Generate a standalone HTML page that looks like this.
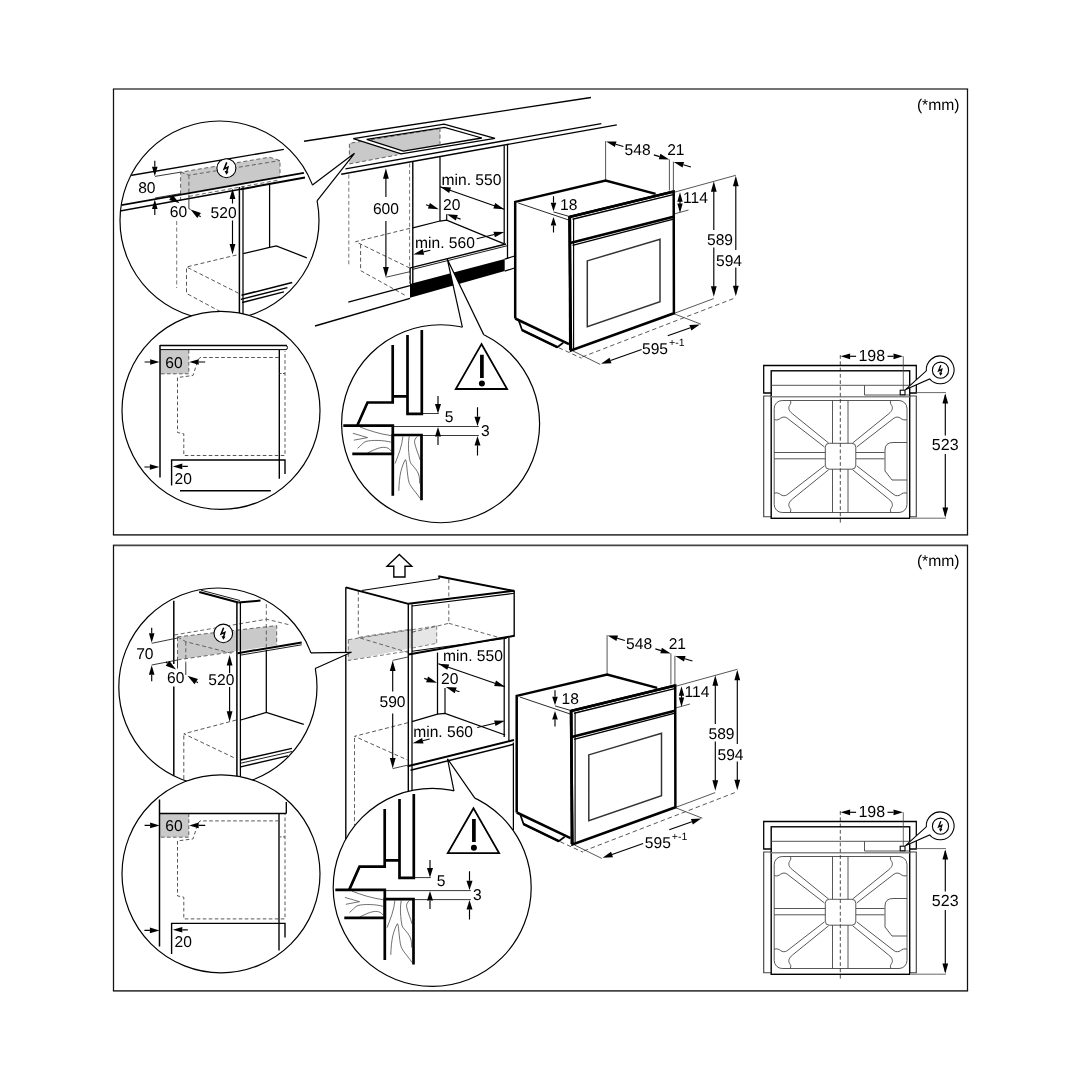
<!DOCTYPE html>
<html><head><meta charset="utf-8"><title>Installation dimensions</title>
<style>
html,body{margin:0;padding:0;background:#fff;}
body{width:1080px;height:1080px;overflow:hidden;}
svg{display:block;}
svg text{font-family:"Liberation Sans",Arial,Helvetica,sans-serif;fill:#000;text-rendering:geometricPrecision;}
svg{will-change:transform;}
</style></head><body>
<svg width="1080" height="1080" viewBox="0 0 1080 1080">
<line x1="112.90" y1="89.00" x2="968.10" y2="89.00" stroke="#444" stroke-width="1.7" stroke-linecap="butt"/>
<line x1="112.90" y1="534.90" x2="968.10" y2="534.90" stroke="#444" stroke-width="1.7" stroke-linecap="butt"/>
<line x1="113.50" y1="89.00" x2="113.50" y2="534.90" stroke="#111" stroke-width="1.26" stroke-linecap="butt"/>
<line x1="967.50" y1="89.00" x2="967.50" y2="534.90" stroke="#111" stroke-width="1.26" stroke-linecap="butt"/>
<text x="959.60" y="110.10" font-size="15.7" text-anchor="end" >(*mm)</text>
<line x1="112.90" y1="545.30" x2="968.10" y2="545.30" stroke="#444" stroke-width="1.7" stroke-linecap="butt"/>
<line x1="112.90" y1="990.90" x2="968.10" y2="990.90" stroke="#444" stroke-width="1.7" stroke-linecap="butt"/>
<line x1="113.50" y1="545.30" x2="113.50" y2="990.90" stroke="#111" stroke-width="1.26" stroke-linecap="butt"/>
<line x1="967.50" y1="545.30" x2="967.50" y2="990.90" stroke="#111" stroke-width="1.26" stroke-linecap="butt"/>
<text x="959.60" y="566.40" font-size="15.7" text-anchor="end" >(*mm)</text>
<g transform="translate(0,0)">
<polyline points="771.20,393.00 763.70,393.00 763.70,365.50 916.30,365.50 916.30,393.00 909.70,393.00" fill="none" stroke="#000" stroke-width="1.26" stroke-linejoin="miter"/>
<polyline points="771.20,396.00 763.70,396.00 763.70,516.70 771.20,516.70" fill="none" stroke="#444" stroke-width="1.15" stroke-linejoin="miter"/>
<polyline points="909.70,396.00 916.30,396.00 916.30,516.70 909.70,516.70" fill="none" stroke="#444" stroke-width="1.15" stroke-linejoin="miter"/>
<rect x="771.2" y="370.8" width="138.5" height="147.5" fill="none" stroke="#000" stroke-width="1.4"/>
<line x1="771.20" y1="385.30" x2="909.70" y2="385.30" stroke="#444" stroke-width="0.9" stroke-linecap="butt"/>
<line x1="771.20" y1="396.80" x2="909.70" y2="396.80" stroke="#888" stroke-width="1.38" stroke-linecap="butt"/>
<polyline points="864.50,385.30 864.50,395.00 909.70,395.00" fill="none" stroke="#444" stroke-width="0.9" stroke-linejoin="miter"/>
<rect x="900.2" y="390.2" width="4.8" height="4.6" fill="#fff" stroke="#000" stroke-width="1.1"/>
<rect x="774.2" y="400.5" width="132.8" height="112" rx="8" ry="8" fill="none" stroke="#444" stroke-width="0.9"/>
<line x1="832.50" y1="400.50" x2="832.50" y2="443.30" stroke="#444" stroke-width="0.9" stroke-linecap="butt"/>
<line x1="832.50" y1="469.20" x2="832.50" y2="512.50" stroke="#444" stroke-width="0.9" stroke-linecap="butt"/>
<line x1="848.00" y1="400.50" x2="848.00" y2="443.30" stroke="#444" stroke-width="0.9" stroke-linecap="butt"/>
<line x1="848.00" y1="469.20" x2="848.00" y2="512.50" stroke="#444" stroke-width="0.9" stroke-linecap="butt"/>
<rect x="825.3" y="443.3" width="30.5" height="25.9" rx="4" ry="4" fill="none" stroke="#444" stroke-width="0.9"/>
<line x1="774.20" y1="452.50" x2="825.30" y2="452.50" stroke="#444" stroke-width="0.9" stroke-linecap="butt"/>
<line x1="855.80" y1="452.50" x2="884.50" y2="452.50" stroke="#444" stroke-width="0.9" stroke-linecap="butt"/>
<line x1="774.20" y1="458.80" x2="825.30" y2="458.80" stroke="#444" stroke-width="0.9" stroke-linecap="butt"/>
<line x1="855.80" y1="458.80" x2="884.50" y2="458.80" stroke="#444" stroke-width="0.9" stroke-linecap="butt"/>
<path d="M907,442.5 H893 Q885,442.5 885,450 V471 L892,480 H907" fill="none" stroke="#444" stroke-width="0.9" />
<path d="M790.20,400.40 C791.50,402.50 790.50,404.00 789.50,405.50 C788.00,408.00 789.00,411.00 792.40,413.70 L828.70,443.10" fill="none" stroke="#444" stroke-width="0.9" />
<path d="M774.30,419.60 C777.00,420.50 779.00,419.50 780.50,418.30 C782.50,416.80 785.00,416.60 787.20,418.10 L824.50,447.00" fill="none" stroke="#444" stroke-width="0.9" />
<path d="M891.00,400.40 C889.70,402.50 890.70,404.00 891.70,405.50 C893.20,408.00 892.20,411.00 888.80,413.70 L852.50,443.10" fill="none" stroke="#444" stroke-width="0.9" />
<path d="M906.90,419.60 C904.20,420.50 902.20,419.50 900.70,418.30 C898.70,416.80 896.20,416.60 894.00,418.10 L856.70,447.00" fill="none" stroke="#444" stroke-width="0.9" />
<path d="M790.20,512.40 C791.50,510.30 790.50,508.80 789.50,507.30 C788.00,504.80 789.00,501.80 792.40,499.10 L828.70,469.70" fill="none" stroke="#444" stroke-width="0.9" />
<path d="M774.30,493.20 C777.00,492.30 779.00,493.30 780.50,494.50 C782.50,496.00 785.00,496.20 787.20,494.70 L824.50,465.80" fill="none" stroke="#444" stroke-width="0.9" />
<path d="M891.00,512.40 C889.70,510.30 890.70,508.80 891.70,507.30 C893.20,504.80 892.20,501.80 888.80,499.10 L852.50,469.70" fill="none" stroke="#444" stroke-width="0.9" />
<path d="M906.90,493.20 C904.20,492.30 902.20,493.30 900.70,494.50 C898.70,496.00 896.20,496.20 894.00,494.70 L856.70,465.80" fill="none" stroke="#444" stroke-width="0.9" />
<line x1="840.30" y1="355.00" x2="840.30" y2="524.00" stroke="#222" stroke-width="0.8" stroke-dasharray="3.8 2.5" stroke-linecap="butt"/>
<line x1="903.30" y1="356.30" x2="903.30" y2="390.00" stroke="#444" stroke-width="0.8" stroke-linecap="butt"/>
<polygon points="840.60,356.30 850.10,353.40 850.10,359.20" fill="#000" stroke="none"/>
<line x1="850.10" y1="356.30" x2="856.10" y2="356.30" stroke="#000" stroke-width="1.15" stroke-linecap="butt"/>
<polygon points="903.00,356.30 893.50,359.20 893.50,353.40" fill="#000" stroke="none"/>
<line x1="893.50" y1="356.30" x2="887.50" y2="356.30" stroke="#000" stroke-width="1.15" stroke-linecap="butt"/>
<text x="871.80" y="360.80" font-size="16" text-anchor="middle" >198</text>
<line x1="916.00" y1="392.60" x2="946.00" y2="392.60" stroke="#444" stroke-width="0.8" stroke-linecap="butt"/>
<line x1="911.00" y1="518.20" x2="946.00" y2="518.20" stroke="#444" stroke-width="0.8" stroke-linecap="butt"/>
<line x1="945.30" y1="395.00" x2="945.30" y2="435.60" stroke="#000" stroke-width="1.15" stroke-linecap="butt"/>
<line x1="945.30" y1="454.00" x2="945.30" y2="516.00" stroke="#000" stroke-width="1.15" stroke-linecap="butt"/>
<polygon points="945.30,393.60 948.20,403.60 942.40,403.60" fill="#000" stroke="none"/>
<polygon points="945.30,517.60 942.40,507.60 948.20,507.60" fill="#000" stroke="none"/>
<text x="945.20" y="450.20" font-size="16" text-anchor="middle" >523</text>
<path d="M905.2,389.8 L926.3,370.8 A13.9,13.9 0 1 1 929.6,378.9 Z" fill="#fff" stroke="#000" stroke-width="1.1" />
<circle cx="940.5" cy="370.2" r="8.1" fill="#fff" stroke="#000" stroke-width="1.1"/>
<polyline points="940.80,365.20 938.60,370.80 941.80,369.30 940.70,373.40" fill="none" stroke="#000" stroke-width="1.35" stroke-linejoin="miter"/>
<polygon points="940.50,375.70 938.90,372.40 942.40,373.20" fill="#000"/>
</g>
<g transform="translate(0,456)">
<polyline points="771.20,393.00 763.70,393.00 763.70,365.50 916.30,365.50 916.30,393.00 909.70,393.00" fill="none" stroke="#000" stroke-width="1.26" stroke-linejoin="miter"/>
<polyline points="771.20,396.00 763.70,396.00 763.70,516.70 771.20,516.70" fill="none" stroke="#444" stroke-width="1.15" stroke-linejoin="miter"/>
<polyline points="909.70,396.00 916.30,396.00 916.30,516.70 909.70,516.70" fill="none" stroke="#444" stroke-width="1.15" stroke-linejoin="miter"/>
<rect x="771.2" y="370.8" width="138.5" height="147.5" fill="none" stroke="#000" stroke-width="1.4"/>
<line x1="771.20" y1="385.30" x2="909.70" y2="385.30" stroke="#444" stroke-width="0.9" stroke-linecap="butt"/>
<line x1="771.20" y1="396.80" x2="909.70" y2="396.80" stroke="#888" stroke-width="1.38" stroke-linecap="butt"/>
<polyline points="864.50,385.30 864.50,395.00 909.70,395.00" fill="none" stroke="#444" stroke-width="0.9" stroke-linejoin="miter"/>
<rect x="900.2" y="390.2" width="4.8" height="4.6" fill="#fff" stroke="#000" stroke-width="1.1"/>
<rect x="774.2" y="400.5" width="132.8" height="112" rx="8" ry="8" fill="none" stroke="#444" stroke-width="0.9"/>
<line x1="832.50" y1="400.50" x2="832.50" y2="443.30" stroke="#444" stroke-width="0.9" stroke-linecap="butt"/>
<line x1="832.50" y1="469.20" x2="832.50" y2="512.50" stroke="#444" stroke-width="0.9" stroke-linecap="butt"/>
<line x1="848.00" y1="400.50" x2="848.00" y2="443.30" stroke="#444" stroke-width="0.9" stroke-linecap="butt"/>
<line x1="848.00" y1="469.20" x2="848.00" y2="512.50" stroke="#444" stroke-width="0.9" stroke-linecap="butt"/>
<rect x="825.3" y="443.3" width="30.5" height="25.9" rx="4" ry="4" fill="none" stroke="#444" stroke-width="0.9"/>
<line x1="774.20" y1="452.50" x2="825.30" y2="452.50" stroke="#444" stroke-width="0.9" stroke-linecap="butt"/>
<line x1="855.80" y1="452.50" x2="884.50" y2="452.50" stroke="#444" stroke-width="0.9" stroke-linecap="butt"/>
<line x1="774.20" y1="458.80" x2="825.30" y2="458.80" stroke="#444" stroke-width="0.9" stroke-linecap="butt"/>
<line x1="855.80" y1="458.80" x2="884.50" y2="458.80" stroke="#444" stroke-width="0.9" stroke-linecap="butt"/>
<path d="M907,442.5 H893 Q885,442.5 885,450 V471 L892,480 H907" fill="none" stroke="#444" stroke-width="0.9" />
<path d="M790.20,400.40 C791.50,402.50 790.50,404.00 789.50,405.50 C788.00,408.00 789.00,411.00 792.40,413.70 L828.70,443.10" fill="none" stroke="#444" stroke-width="0.9" />
<path d="M774.30,419.60 C777.00,420.50 779.00,419.50 780.50,418.30 C782.50,416.80 785.00,416.60 787.20,418.10 L824.50,447.00" fill="none" stroke="#444" stroke-width="0.9" />
<path d="M891.00,400.40 C889.70,402.50 890.70,404.00 891.70,405.50 C893.20,408.00 892.20,411.00 888.80,413.70 L852.50,443.10" fill="none" stroke="#444" stroke-width="0.9" />
<path d="M906.90,419.60 C904.20,420.50 902.20,419.50 900.70,418.30 C898.70,416.80 896.20,416.60 894.00,418.10 L856.70,447.00" fill="none" stroke="#444" stroke-width="0.9" />
<path d="M790.20,512.40 C791.50,510.30 790.50,508.80 789.50,507.30 C788.00,504.80 789.00,501.80 792.40,499.10 L828.70,469.70" fill="none" stroke="#444" stroke-width="0.9" />
<path d="M774.30,493.20 C777.00,492.30 779.00,493.30 780.50,494.50 C782.50,496.00 785.00,496.20 787.20,494.70 L824.50,465.80" fill="none" stroke="#444" stroke-width="0.9" />
<path d="M891.00,512.40 C889.70,510.30 890.70,508.80 891.70,507.30 C893.20,504.80 892.20,501.80 888.80,499.10 L852.50,469.70" fill="none" stroke="#444" stroke-width="0.9" />
<path d="M906.90,493.20 C904.20,492.30 902.20,493.30 900.70,494.50 C898.70,496.00 896.20,496.20 894.00,494.70 L856.70,465.80" fill="none" stroke="#444" stroke-width="0.9" />
<line x1="840.30" y1="355.00" x2="840.30" y2="524.00" stroke="#222" stroke-width="0.8" stroke-dasharray="3.8 2.5" stroke-linecap="butt"/>
<line x1="903.30" y1="356.30" x2="903.30" y2="390.00" stroke="#444" stroke-width="0.8" stroke-linecap="butt"/>
<polygon points="840.60,356.30 850.10,353.40 850.10,359.20" fill="#000" stroke="none"/>
<line x1="850.10" y1="356.30" x2="856.10" y2="356.30" stroke="#000" stroke-width="1.15" stroke-linecap="butt"/>
<polygon points="903.00,356.30 893.50,359.20 893.50,353.40" fill="#000" stroke="none"/>
<line x1="893.50" y1="356.30" x2="887.50" y2="356.30" stroke="#000" stroke-width="1.15" stroke-linecap="butt"/>
<text x="871.80" y="360.80" font-size="16" text-anchor="middle" >198</text>
<line x1="916.00" y1="392.60" x2="946.00" y2="392.60" stroke="#444" stroke-width="0.8" stroke-linecap="butt"/>
<line x1="911.00" y1="518.20" x2="946.00" y2="518.20" stroke="#444" stroke-width="0.8" stroke-linecap="butt"/>
<line x1="945.30" y1="395.00" x2="945.30" y2="435.60" stroke="#000" stroke-width="1.15" stroke-linecap="butt"/>
<line x1="945.30" y1="454.00" x2="945.30" y2="516.00" stroke="#000" stroke-width="1.15" stroke-linecap="butt"/>
<polygon points="945.30,393.60 948.20,403.60 942.40,403.60" fill="#000" stroke="none"/>
<polygon points="945.30,517.60 942.40,507.60 948.20,507.60" fill="#000" stroke="none"/>
<text x="945.20" y="450.20" font-size="16" text-anchor="middle" >523</text>
<path d="M905.2,389.8 L926.3,370.8 A13.9,13.9 0 1 1 929.6,378.9 Z" fill="#fff" stroke="#000" stroke-width="1.1" />
<circle cx="940.5" cy="370.2" r="8.1" fill="#fff" stroke="#000" stroke-width="1.1"/>
<polyline points="940.80,365.20 938.60,370.80 941.80,369.30 940.70,373.40" fill="none" stroke="#000" stroke-width="1.35" stroke-linejoin="miter"/>
<polygon points="940.50,375.70 938.90,372.40 942.40,373.20" fill="#000"/>
</g>
<g transform="translate(0,0)">
<line x1="605.60" y1="141.10" x2="605.60" y2="180.00" stroke="#444" stroke-width="0.9" stroke-linecap="butt"/>
<line x1="669.40" y1="159.40" x2="669.40" y2="190.50" stroke="#444" stroke-width="0.9" stroke-linecap="butt"/>
<line x1="673.40" y1="161.70" x2="673.40" y2="191.50" stroke="#444" stroke-width="0.9" stroke-linecap="butt"/>
<line x1="674.40" y1="192.20" x2="735.80" y2="175.30" stroke="#444" stroke-width="0.9" stroke-linecap="butt"/>
<line x1="674.40" y1="213.90" x2="688.50" y2="210.00" stroke="#444" stroke-width="0.9" stroke-linecap="butt"/>
<line x1="673.90" y1="313.50" x2="713.70" y2="298.60" stroke="#444" stroke-width="0.9" stroke-linecap="butt"/>
<line x1="582.20" y1="357.00" x2="736.00" y2="297.60" stroke="#444" stroke-width="0.9" stroke-dasharray="4.5 3" stroke-linecap="butt"/>
<line x1="558.70" y1="347.70" x2="581.50" y2="358.20" stroke="#444" stroke-width="0.9" stroke-dasharray="4.5 3" stroke-linecap="butt"/>
<line x1="573.00" y1="351.00" x2="600.20" y2="364.40" stroke="#444" stroke-width="0.9" stroke-linecap="butt"/>
<line x1="673.90" y1="313.70" x2="700.90" y2="324.20" stroke="#444" stroke-width="0.9" stroke-linecap="butt"/>
<polyline points="515.20,318.50 515.20,201.90 605.60,180.50 655.60,193.90" fill="none" stroke="#000" stroke-width="2.5" stroke-linejoin="miter"/>
<line x1="515.20" y1="318.50" x2="569.00" y2="344.20" stroke="#000" stroke-width="2.5" stroke-linecap="butt"/>
<line x1="518.30" y1="203.00" x2="568.70" y2="220.00" stroke="#111" stroke-width="0.9" stroke-linecap="butt"/>
<line x1="553.50" y1="211.90" x2="568.70" y2="216.30" stroke="#111" stroke-width="0.9" stroke-linecap="butt"/>
<polyline points="518.90,321.00 522.10,330.10 557.30,347.20 563.20,342.80" fill="none" stroke="#000" stroke-width="1.7" stroke-linejoin="miter"/>
<line x1="522.10" y1="330.10" x2="557.30" y2="347.20" stroke="#000" stroke-width="2.4" stroke-linecap="butt"/>
<polygon points="569.40,217.00 673.70,191.50 673.90,313.30 571.00,350.40" fill="#fff" stroke="#000" stroke-width="2.5" stroke-linejoin="miter"/>
<line x1="569.40" y1="217.00" x2="673.70" y2="191.50" stroke="#000" stroke-width="2.8" stroke-linecap="butt"/>
<line x1="569.80" y1="217.00" x2="570.40" y2="350.00" stroke="#000" stroke-width="2.8" stroke-linecap="butt"/>
<line x1="573.60" y1="219.00" x2="573.60" y2="349.20" stroke="#000" stroke-width="1.15" stroke-linecap="butt"/>
<line x1="572.50" y1="219.20" x2="673.20" y2="194.60" stroke="#000" stroke-width="1.49" stroke-linecap="butt"/>
<line x1="570.20" y1="243.00" x2="673.50" y2="216.70" stroke="#000" stroke-width="2.7" stroke-linecap="butt"/>
<line x1="572.50" y1="245.30" x2="673.50" y2="219.20" stroke="#000" stroke-width="1.38" stroke-linecap="butt"/>
<polygon points="587.30,260.90 660.00,239.20 660.00,301.70 587.30,326.70" fill="none" stroke="#333" stroke-width="1.49" stroke-linejoin="miter"/>
<polygon points="553.50,211.20 550.70,202.70 556.30,202.70" fill="#000" stroke="none"/>
<line x1="553.50" y1="202.70" x2="553.50" y2="196.20" stroke="#000" stroke-width="1.15" stroke-linecap="butt"/>
<polygon points="553.50,217.00 556.30,225.50 550.70,225.50" fill="#000" stroke="none"/>
<line x1="553.50" y1="225.50" x2="553.50" y2="232.50" stroke="#000" stroke-width="1.15" stroke-linecap="butt"/>
<text x="560.00" y="210.00" font-size="15.6" text-anchor="start" >18</text>
<polygon points="606.10,141.40 616.51,141.44 614.88,147.00" fill="#000" stroke="none"/>
<line x1="615.69" y1="144.22" x2="623.37" y2="146.47" stroke="#000" stroke-width="1.15" stroke-linecap="butt"/>
<polygon points="669.20,159.40 658.79,159.36 660.42,153.80" fill="#000" stroke="none"/>
<line x1="659.61" y1="156.58" x2="653.85" y2="154.89" stroke="#000" stroke-width="1.15" stroke-linecap="butt"/>
<polygon points="673.70,161.90 684.11,161.94 682.48,167.50" fill="#000" stroke="none"/>
<line x1="683.29" y1="164.72" x2="690.97" y2="166.97" stroke="#000" stroke-width="1.15" stroke-linecap="butt"/>
<text x="624.60" y="154.60" font-size="15.6" text-anchor="start" >548</text>
<text x="667.20" y="154.60" font-size="15.6" text-anchor="start" >21</text>
<polygon points="680.00,192.30 682.70,201.80 677.30,201.80" fill="#000" stroke="none"/>
<polygon points="680.00,212.90 677.30,203.40 682.70,203.40" fill="#000" stroke="none"/>
<line x1="680.00" y1="198.00" x2="680.00" y2="207.00" stroke="#000" stroke-width="1.15" stroke-linecap="butt"/>
<text x="683.00" y="202.60" font-size="15.6" text-anchor="start" >114</text>
<line x1="713.80" y1="185.00" x2="713.80" y2="230.00" stroke="#000" stroke-width="1.15" stroke-linecap="butt"/>
<line x1="713.80" y1="247.50" x2="713.80" y2="292.00" stroke="#000" stroke-width="1.15" stroke-linecap="butt"/>
<polygon points="713.80,181.20 716.70,191.70 710.90,191.70" fill="#000" stroke="none"/>
<polygon points="713.80,296.80 710.90,286.30 716.70,286.30" fill="#000" stroke="none"/>
<line x1="735.80" y1="180.00" x2="735.80" y2="250.00" stroke="#000" stroke-width="1.15" stroke-linecap="butt"/>
<line x1="735.80" y1="267.50" x2="735.80" y2="292.00" stroke="#000" stroke-width="1.15" stroke-linecap="butt"/>
<polygon points="735.80,175.70 738.70,186.20 732.90,186.20" fill="#000" stroke="none"/>
<polygon points="735.80,296.30 732.90,285.80 738.70,285.80" fill="#000" stroke="none"/>
<text x="707.00" y="245.40" font-size="15.6" text-anchor="start" >589</text>
<text x="716.00" y="265.90" font-size="15.6" text-anchor="start" >594</text>
<polygon points="601.10,363.80 609.56,357.74 611.49,363.20" fill="#000" stroke="none"/>
<line x1="610.53" y1="360.47" x2="641.65" y2="349.48" stroke="#000" stroke-width="1.15" stroke-linecap="butt"/>
<polygon points="699.80,324.40 691.34,330.46 689.41,325.00" fill="#000" stroke="none"/>
<line x1="690.37" y1="327.73" x2="667.74" y2="335.72" stroke="#000" stroke-width="1.15" stroke-linecap="butt"/>
<text x="642.00" y="354.20" font-size="15.6" text-anchor="start" >595</text>
<text x="669.00" y="346.30" font-size="10.5" text-anchor="start" >+-1</text>
</g>
<line x1="304.00" y1="141.30" x2="591.00" y2="97.50" stroke="#000" stroke-width="1.38" stroke-linecap="butt"/>
<line x1="345.50" y1="168.90" x2="601.30" y2="123.60" stroke="#000" stroke-width="1.38" stroke-linecap="butt"/>
<line x1="341.20" y1="174.30" x2="616.80" y2="124.90" stroke="#000" stroke-width="1.38" stroke-linecap="butt"/>
<polygon points="349.40,143.30 440.00,128.30 440.00,147.00 349.40,163.90" fill="#c9c9c9" stroke="none" stroke-width="0" stroke-linejoin="miter"/>
<polyline points="440.00,128.50 349.40,143.30 349.40,163.90 397.00,155.00" fill="none" stroke="#555" stroke-width="0.9" stroke-dasharray="4 2.6" stroke-linejoin="miter"/>
<path d="M353.30,138.70 L444.10,124.10 L495.00,138.30 L401.10,153.90 Z M366.70,139.40 L444.50,127.30 L481.80,138.00 L403.30,151.10 Z" fill="#fff" stroke="#000" stroke-width="1.3" fill-rule="evenodd"/>
<line x1="440.00" y1="128.00" x2="440.00" y2="146.50" stroke="#555" stroke-width="0.9" stroke-dasharray="4 2.6" stroke-linecap="butt"/>
<line x1="348.80" y1="174.50" x2="348.80" y2="264.50" stroke="#666" stroke-width="0.9" stroke-dasharray="4 2.6" stroke-linecap="butt"/>
<line x1="409.60" y1="163.50" x2="409.60" y2="283.00" stroke="#666" stroke-width="0.9" stroke-dasharray="4 2.6" stroke-linecap="butt"/>
<polyline points="410.00,228.30 355.60,241.70 409.40,267.80" fill="none" stroke="#444" stroke-width="0.9" stroke-dasharray="4 2.6" stroke-linejoin="miter"/>
<polyline points="360.60,244.40 360.60,270.60 405.60,295.60" fill="none" stroke="#444" stroke-width="0.9" stroke-dasharray="4 2.6" stroke-linejoin="miter"/>
<line x1="412.80" y1="161.50" x2="412.80" y2="284.00" stroke="#000" stroke-width="1.38" stroke-linecap="butt"/>
<line x1="410.20" y1="268.00" x2="410.20" y2="284.00" stroke="#000" stroke-width="1.15" stroke-linecap="butt"/>
<line x1="440.00" y1="156.70" x2="440.00" y2="221.00" stroke="#000" stroke-width="1.26" stroke-linecap="butt"/>
<line x1="504.20" y1="145.60" x2="504.20" y2="243.80" stroke="#000" stroke-width="1.26" stroke-linecap="butt"/>
<line x1="507.50" y1="144.80" x2="507.50" y2="258.00" stroke="#000" stroke-width="1.26" stroke-linecap="butt"/>
<polyline points="412.80,227.80 440.00,221.00 446.70,220.20 504.20,243.80" fill="none" stroke="#000" stroke-width="1.26" stroke-linejoin="miter"/>
<line x1="446.70" y1="214.20" x2="446.70" y2="220.20" stroke="#000" stroke-width="1.15" stroke-linecap="butt"/>
<line x1="409.40" y1="268.20" x2="506.00" y2="244.00" stroke="#000" stroke-width="1.38" stroke-linecap="butt"/>
<line x1="412.80" y1="269.30" x2="507.00" y2="245.80" stroke="#000" stroke-width="0.9" stroke-linecap="butt"/>
<polygon points="410.00,283.90 504.70,259.00 504.70,271.10 410.00,297.80" fill="#000" stroke="none" stroke-width="0" stroke-linejoin="miter"/>
<line x1="504.70" y1="259.20" x2="514.50" y2="256.00" stroke="#000" stroke-width="1.26" stroke-linecap="butt"/>
<line x1="504.70" y1="271.10" x2="514.50" y2="268.00" stroke="#000" stroke-width="1.26" stroke-linecap="butt"/>
<line x1="348.30" y1="302.20" x2="410.00" y2="285.60" stroke="#000" stroke-width="1.38" stroke-linecap="butt"/>
<line x1="315.00" y1="326.00" x2="410.00" y2="298.30" stroke="#000" stroke-width="1.38" stroke-linecap="butt"/>
<line x1="386.10" y1="277.20" x2="410.00" y2="271.70" stroke="#333" stroke-width="0.9" stroke-linecap="butt"/>
<line x1="385.90" y1="172.00" x2="385.90" y2="197.00" stroke="#000" stroke-width="1.15" stroke-linecap="butt"/>
<line x1="385.90" y1="221.00" x2="385.90" y2="273.00" stroke="#000" stroke-width="1.15" stroke-linecap="butt"/>
<polygon points="385.90,168.30 388.80,178.80 383.00,178.80" fill="#000" stroke="none"/>
<polygon points="385.90,277.40 383.00,266.90 388.80,266.90" fill="#000" stroke="none"/>
<text x="385.90" y="214.10" font-size="15.6" text-anchor="middle" >600</text>
<line x1="440.00" y1="186.70" x2="504.20" y2="209.20" stroke="#000" stroke-width="1.15" stroke-linecap="butt"/>
<polygon points="440.20,186.80 451.07,187.54 449.15,193.01" fill="#000" stroke="none"/>
<polygon points="504.20,209.20 493.33,208.46 495.25,202.99" fill="#000" stroke="none"/>
<text x="441.50" y="184.60" font-size="15.6" text-anchor="start" >min. 550</text>
<polygon points="438.80,209.20 427.90,208.56 429.88,202.89" fill="#000" stroke="none"/>
<line x1="428.89" y1="205.73" x2="426.06" y2="204.73" stroke="#000" stroke-width="1.15" stroke-linecap="butt"/>
<polygon points="446.90,214.30 457.80,214.94 455.82,220.61" fill="#000" stroke="none"/>
<line x1="456.81" y1="217.77" x2="460.58" y2="219.10" stroke="#000" stroke-width="1.15" stroke-linecap="butt"/>
<text x="443.00" y="209.60" font-size="15.6" text-anchor="start" >20</text>
<polygon points="413.30,254.40 422.81,249.09 424.19,254.73" fill="#000" stroke="none"/>
<line x1="423.50" y1="251.91" x2="430.30" y2="250.25" stroke="#000" stroke-width="1.15" stroke-linecap="butt"/>
<polygon points="504.40,232.00 494.89,237.31 493.51,231.67" fill="#000" stroke="none"/>
<line x1="494.20" y1="234.49" x2="476.71" y2="238.75" stroke="#000" stroke-width="1.15" stroke-linecap="butt"/>
<text x="415.00" y="248.20" font-size="15.6" text-anchor="start" >min. 560</text>
<circle cx="440.6" cy="423.75" r="99" fill="#fff" stroke="#000" stroke-width="1.2"/>
<polygon points="460.72,329.88 462.79,327.27 447.30,259.20 483.30,334.43 483.28,337.76" fill="#fff" stroke="none"/>
<polygon points="460.72,329.88 462.79,327.27 473.64,329.15 483.30,334.43 483.28,337.76" fill="#fff" stroke="none"/>
<polyline points="462.36,327.17 447.30,259.20 483.69,334.62" fill="none" stroke="#000" stroke-width="1.2" stroke-linejoin="miter"/>
<clipPath id="c3a"><circle cx="440.6" cy="423.75" r="99"/></clipPath>
<g clip-path="url(#c3a)">
<g transform="translate(0,0)">
<line x1="392.50" y1="426.50" x2="478.80" y2="426.50" stroke="#222" stroke-width="0.9" stroke-linecap="butt"/>
<line x1="422.00" y1="435.50" x2="478.80" y2="435.50" stroke="#222" stroke-width="0.9" stroke-linecap="butt"/>
<line x1="422.00" y1="413.50" x2="438.80" y2="413.50" stroke="#222" stroke-width="0.9" stroke-linecap="butt"/>
<path d="M360,427 C370,431 380,434 391,435.6" fill="none" stroke="#333" stroke-width="0.7" />
<path d="M352.9,433.3 L367.5,437.6 L353.8,440.2" fill="none" stroke="#333" stroke-width="0.7" stroke-linejoin="round"/>
<path d="M357.5,448.3 C361,446 362.5,442.5 366,441.4 C372,439.8 384,440.2 391,442.2" fill="none" stroke="#333" stroke-width="0.7" />
<path d="M367.5,452.9 C372,451 377,448 382,447.4 C387,447 389.5,448.5 391,451" fill="none" stroke="#333" stroke-width="0.7" />
<path d="M402.9,436.3 C402,446 398.5,455 395,463.5" fill="none" stroke="#333" stroke-width="0.7" />
<path d="M409.2,436.3 C408.3,442 408.2,448 408.8,452.5 C409.2,457 409.6,461.5 411,463.5 C414,467 417.5,471 418.5,474 C419.5,477 419.8,480 419.6,483.5" fill="none" stroke="#333" stroke-width="0.7" />
<path d="M417.5,436.3 C415.5,438 414.2,440 414.6,442.5 C415.5,448 418.5,454 420.2,460" fill="none" stroke="#333" stroke-width="0.7" />
<path d="M398.8,490.8 C399,484 399.6,477 400.8,471.7 C402,467 403.6,462.5 405.4,459.6 C406.6,461 406.4,464 406.8,466.8 C407.4,472 407.8,479 409.4,483.5 C411.5,488 417,493.5 420,498.3" fill="none" stroke="#333" stroke-width="0.7" />
<polyline points="392.70,345.00 392.70,402.50 367.50,402.50 357.30,425.50" fill="none" stroke="#000" stroke-width="2.7" stroke-linejoin="miter"/>
<line x1="392.70" y1="396.30" x2="407.50" y2="396.30" stroke="#000" stroke-width="2.7" stroke-linecap="butt"/>
<polyline points="407.50,335.00 407.50,413.80 421.80,413.80 421.80,330.00" fill="none" stroke="#000" stroke-width="2.7" stroke-linejoin="miter"/>
<polyline points="343.30,425.70 392.80,425.70 392.80,453.80 352.30,453.80" fill="none" stroke="#000" stroke-width="2.7" stroke-linejoin="miter"/>
<polyline points="392.80,495.80 392.80,435.00 421.50,435.00 421.50,500.30" fill="none" stroke="#000" stroke-width="2.7" stroke-linejoin="miter"/>
<polygon points="438.00,413.40 435.00,403.90 441.00,403.90" fill="#000" stroke="none"/>
<line x1="438.00" y1="403.90" x2="438.00" y2="395.90" stroke="#000" stroke-width="1.15" stroke-linecap="butt"/>
<polygon points="438.00,427.00 441.00,436.50 435.00,436.50" fill="#000" stroke="none"/>
<line x1="438.00" y1="436.50" x2="438.00" y2="445.00" stroke="#000" stroke-width="1.15" stroke-linecap="butt"/>
<polygon points="477.50,426.20 474.50,416.70 480.50,416.70" fill="#000" stroke="none"/>
<line x1="477.50" y1="416.70" x2="477.50" y2="407.20" stroke="#000" stroke-width="1.15" stroke-linecap="butt"/>
<polygon points="477.50,436.00 480.50,445.50 474.50,445.50" fill="#000" stroke="none"/>
<line x1="477.50" y1="445.50" x2="477.50" y2="455.50" stroke="#000" stroke-width="1.15" stroke-linecap="butt"/>
<text x="444.80" y="421.70" font-size="15.6" text-anchor="start" >5</text>
<text x="481.00" y="435.60" font-size="15.6" text-anchor="start" >3</text>
<polygon points="481.50,344.10 455.80,389.00 507.10,389.00" fill="#fff" stroke="#000" stroke-width="1.8" stroke-linejoin="miter"/>
<line x1="481.90" y1="354.80" x2="481.90" y2="378.00" stroke="#000" stroke-width="3.7" stroke-linecap="butt"/>
<circle cx="481.9" cy="383.6" r="3.0" fill="#000"/>
</g>
</g>
<circle cx="219.5" cy="220.5" r="99.5" fill="#fff" stroke="#000" stroke-width="1.2"/>
<polygon points="309.29,185.13 312.61,185.41 354.50,153.30 316.95,200.41 314.29,202.42" fill="#fff" stroke="none"/>
<polygon points="309.29,185.13 312.61,185.41 316.23,192.49 316.95,200.41 314.29,202.42" fill="#fff" stroke="none"/>
<polyline points="312.45,185.00 354.50,153.30 317.04,200.83" fill="none" stroke="#000" stroke-width="1.2" stroke-linejoin="miter"/>
<clipPath id="c1a"><circle cx="219.5" cy="220.5" r="99.2"/></clipPath>
<g clip-path="url(#c1a)">
<polygon points="180.60,172.20 269.40,157.20 280.00,160.60 280.00,177.04 180.60,194.65" fill="#c9c9c9" stroke="none" stroke-width="0" stroke-linejoin="miter"/>
<line x1="120.00" y1="177.30" x2="283.90" y2="149.40" stroke="#000" stroke-width="1.38" stroke-linecap="butt"/>
<polyline points="180.60,201.00 180.60,172.20 269.40,157.20 280.00,160.60 280.00,178.30" fill="none" stroke="#555" stroke-width="0.9" stroke-dasharray="4 2.6" stroke-linejoin="miter"/>
<polyline points="180.60,172.20 188.90,175.20 280.00,160.60" fill="none" stroke="#555" stroke-width="0.9" stroke-dasharray="4 2.6" stroke-linejoin="miter"/>
<line x1="188.90" y1="175.20" x2="188.90" y2="194.40" stroke="#555" stroke-width="0.9" stroke-dasharray="4 2.6" stroke-linecap="butt"/>
<line x1="188.90" y1="196.40" x2="279.00" y2="180.00" stroke="#555" stroke-width="0.9" stroke-dasharray="4 2.6" stroke-linecap="butt"/>
<line x1="155.00" y1="176.40" x2="180.60" y2="172.20" stroke="#222" stroke-width="0.9" stroke-linecap="butt"/>
<line x1="155.00" y1="198.00" x2="180.60" y2="193.60" stroke="#222" stroke-width="0.9" stroke-linecap="butt"/>
<line x1="110.00" y1="207.16" x2="303.90" y2="172.80" stroke="#000" stroke-width="1.7" stroke-linecap="butt"/>
<line x1="110.00" y1="212.80" x2="242.00" y2="188.98" stroke="#000" stroke-width="1.38" stroke-linecap="butt"/>
<line x1="241.00" y1="189.16" x2="305.00" y2="177.60" stroke="#000" stroke-width="2.0" stroke-linecap="butt"/>
<polygon points="154.80,176.20 152.00,166.70 157.60,166.70" fill="#000" stroke="none"/>
<line x1="154.80" y1="166.70" x2="154.80" y2="160.70" stroke="#000" stroke-width="1.15" stroke-linecap="butt"/>
<polygon points="154.80,199.60 157.60,209.10 152.00,209.10" fill="#000" stroke="none"/>
<line x1="154.80" y1="209.10" x2="154.80" y2="215.10" stroke="#000" stroke-width="1.15" stroke-linecap="butt"/>
<text x="138.20" y="192.70" font-size="15.6" text-anchor="start" >80</text>
<polygon points="179.60,203.30 169.13,200.10 172.54,194.93" fill="#000" stroke="none"/>
<line x1="170.84" y1="197.52" x2="169.17" y2="196.41" stroke="#000" stroke-width="1.15" stroke-linecap="butt"/>
<polygon points="190.60,209.40 200.91,213.09 197.25,218.09" fill="#000" stroke="none"/>
<line x1="199.08" y1="215.59" x2="200.70" y2="216.77" stroke="#000" stroke-width="1.15" stroke-linecap="butt"/>
<polyline points="188.90,194.60 188.90,208.60 190.60,209.40" fill="none" stroke="#222" stroke-width="0.9" stroke-linejoin="miter"/>
<text x="169.80" y="217.20" font-size="15.6" text-anchor="start" >60</text>
<line x1="232.50" y1="192.00" x2="232.50" y2="203.50" stroke="#000" stroke-width="1.15" stroke-linecap="butt"/>
<line x1="232.50" y1="220.50" x2="232.50" y2="250.00" stroke="#000" stroke-width="1.15" stroke-linecap="butt"/>
<polygon points="232.50,188.60 235.40,199.10 229.60,199.10" fill="#000" stroke="none"/>
<polygon points="232.50,254.60 229.60,244.10 235.40,244.10" fill="#000" stroke="none"/>
<text x="210.60" y="217.80" font-size="15.6" text-anchor="start" >520</text>
<line x1="176.70" y1="221.00" x2="176.70" y2="288.00" stroke="#666" stroke-width="0.9" stroke-dasharray="4 2.6" stroke-linecap="butt"/>
<polyline points="236.50,255.00 186.50,267.00 238.50,293.20" fill="none" stroke="#444" stroke-width="0.9" stroke-dasharray="4 2.6" stroke-linejoin="miter"/>
<polyline points="186.50,268.50 186.50,293.40 222.00,312.50" fill="none" stroke="#444" stroke-width="0.9" stroke-dasharray="4 2.6" stroke-linejoin="miter"/>
<line x1="239.40" y1="187.00" x2="239.40" y2="330.00" stroke="#000" stroke-width="1.49" stroke-linecap="butt"/>
<line x1="243.00" y1="186.50" x2="243.00" y2="330.00" stroke="#000" stroke-width="1.26" stroke-linecap="butt"/>
<line x1="269.60" y1="184.40" x2="269.60" y2="247.40" stroke="#000" stroke-width="1.26" stroke-linecap="butt"/>
<polyline points="243.20,253.60 269.60,247.40 276.30,246.00 306.80,257.80" fill="none" stroke="#000" stroke-width="1.26" stroke-linejoin="miter"/>
<line x1="241.50" y1="295.30" x2="292.20" y2="282.50" stroke="#000" stroke-width="1.49" stroke-linecap="butt"/>
<line x1="240.80" y1="299.40" x2="287.40" y2="287.60" stroke="#000" stroke-width="1.38" stroke-linecap="butt"/>
<line x1="242.20" y1="302.50" x2="283.90" y2="291.80" stroke="#000" stroke-width="1.38" stroke-linecap="butt"/>
</g>
<circle cx="226.4" cy="168.2" r="9.5" fill="#fff" stroke="#000" stroke-width="1.1"/>
<polyline points="226.75,162.34 224.17,168.90 227.92,167.14 226.63,171.95" fill="none" stroke="#000" stroke-width="1.58" stroke-linejoin="miter"/>
<polygon points="226.40,174.65 224.52,170.78 228.63,171.72" fill="#000"/>
<circle cx="221" cy="410.4" r="99" fill="#fff" stroke="#000" stroke-width="1.2"/>
<clipPath id="c21"><circle cx="221" cy="410.4" r="98.7"/></clipPath>
<g clip-path="url(#c21)">
<g transform="translate(0,0)">
<rect x="160" y="350" width="28.8" height="23.8" fill="#c9c9c9"/>
<polyline points="188.80,350.00 188.80,373.80 160.00,373.80" fill="none" stroke="#555" stroke-width="0.9" stroke-dasharray="3.6 2.4" stroke-linejoin="miter"/>
<path d="M160,345.5 H286 Q287.4,345.5 287.4,347.6 Q287.4,349.6 286,349.6 H160" fill="none" stroke="#000" stroke-width="1.0" />
<line x1="160.00" y1="345.60" x2="287.00" y2="345.60" stroke="#000" stroke-width="1.5" stroke-linecap="butt"/>
<line x1="160.00" y1="345.00" x2="160.00" y2="477.50" stroke="#000" stroke-width="1.49" stroke-linecap="butt"/>
<line x1="279.30" y1="350.00" x2="279.30" y2="478.80" stroke="#000" stroke-width="1.38" stroke-linecap="butt"/>
<line x1="180.00" y1="490.80" x2="270.80" y2="490.80" stroke="#000" stroke-width="1.38" stroke-linecap="butt"/>
<polyline points="278.80,357.50 200.00,357.50 198.00,360.00 193.00,375.50 177.50,377.50 177.50,432.50 183.80,433.80 183.80,455.50 285.00,455.50 285.00,351.00" fill="none" stroke="#444" stroke-width="0.9" stroke-dasharray="3.6 2.4" stroke-linejoin="miter"/>
<line x1="279.50" y1="373.50" x2="285.00" y2="373.50" stroke="#444" stroke-width="0.9" stroke-dasharray="2 1.5" stroke-linecap="butt"/>
<polyline points="171.60,485.50 171.60,460.00 285.00,460.00 285.00,474.00" fill="none" stroke="#000" stroke-width="1.38" stroke-linejoin="miter"/>
<polygon points="159.60,362.00 150.10,364.80 150.10,359.20" fill="#000" stroke="none"/>
<line x1="150.10" y1="362.00" x2="144.60" y2="362.00" stroke="#000" stroke-width="1.15" stroke-linecap="butt"/>
<polygon points="189.20,362.00 198.70,359.20 198.70,364.80" fill="#000" stroke="none"/>
<line x1="198.70" y1="362.00" x2="205.20" y2="362.00" stroke="#000" stroke-width="1.15" stroke-linecap="butt"/>
<text x="165.30" y="367.50" font-size="15.6" text-anchor="start" >60</text>
<polygon points="159.40,467.00 149.90,469.80 149.90,464.20" fill="#000" stroke="none"/>
<line x1="149.90" y1="467.00" x2="144.40" y2="467.00" stroke="#000" stroke-width="1.15" stroke-linecap="butt"/>
<polygon points="172.80,466.40 182.30,463.60 182.30,469.20" fill="#000" stroke="none"/>
<line x1="182.30" y1="466.40" x2="187.80" y2="466.40" stroke="#000" stroke-width="1.15" stroke-linecap="butt"/>
<text x="174.60" y="483.70" font-size="15.6" text-anchor="start" >20</text>
</g>
</g>
<polygon points="348.30,639.70 436.70,625.80 436.70,643.30 348.30,660.50" fill="#d8d8d8" stroke="none" stroke-width="0" stroke-linejoin="miter"/>
<line x1="358.30" y1="590.80" x2="358.30" y2="637.50" stroke="#555" stroke-width="0.9" stroke-dasharray="4 2.6" stroke-linecap="butt"/>
<line x1="448.80" y1="579.20" x2="448.80" y2="623.30" stroke="#555" stroke-width="0.9" stroke-dasharray="4 2.6" stroke-linecap="butt"/>
<polyline points="408.30,652.50 358.30,637.50 448.80,623.30 501.70,638.30" fill="none" stroke="#555" stroke-width="0.9" stroke-dasharray="4 2.6" stroke-linejoin="miter"/>
<polyline points="348.30,639.70 436.70,625.80 436.70,643.30" fill="none" stroke="#666" stroke-width="0.9" stroke-dasharray="4 2.6" stroke-linejoin="miter"/>
<polyline points="348.30,639.70 348.30,660.50 408.30,651.00" fill="none" stroke="#666" stroke-width="0.9" stroke-dasharray="4 2.6" stroke-linejoin="miter"/>
<polygon points="412.00,603.90 514.20,591.20 514.20,636.20 412.00,653.30" fill="#fff" stroke="none" stroke-width="0" stroke-linejoin="miter"/>
<polygon points="412.00,629.70 436.70,625.80 436.70,643.30 412.00,648.10" fill="#e6e6e6" stroke="none" stroke-width="0" stroke-linejoin="miter"/>
<line x1="436.70" y1="625.80" x2="436.70" y2="643.30" stroke="#777" stroke-width="0.9" stroke-dasharray="4 2.6" stroke-linecap="butt"/>
<line x1="412.00" y1="629.70" x2="436.70" y2="625.80" stroke="#777" stroke-width="0.9" stroke-dasharray="4 2.6" stroke-linecap="butt"/>
<line x1="412.00" y1="648.10" x2="436.70" y2="643.30" stroke="#777" stroke-width="0.9" stroke-dasharray="4 2.6" stroke-linecap="butt"/>
<line x1="448.80" y1="604.00" x2="448.80" y2="623.30" stroke="#555" stroke-width="0.9" stroke-dasharray="4 2.6" stroke-linecap="butt"/>
<polyline points="448.80,623.30 501.70,638.30" fill="none" stroke="#555" stroke-width="0.9" stroke-dasharray="4 2.6" stroke-linejoin="miter"/>
<polyline points="412.00,632.20 448.80,623.30" fill="none" stroke="#555" stroke-width="0.9" stroke-dasharray="4 2.6" stroke-linejoin="miter"/>
<line x1="345.80" y1="587.20" x2="345.80" y2="840.00" stroke="#000" stroke-width="1.38" stroke-linecap="butt"/>
<line x1="345.80" y1="587.40" x2="408.50" y2="603.90" stroke="#000" stroke-width="2.0" stroke-linecap="butt"/>
<line x1="361.70" y1="590.50" x2="439.20" y2="578.80" stroke="#000" stroke-width="1.15" stroke-linecap="butt"/>
<line x1="439.20" y1="576.00" x2="439.20" y2="579.00" stroke="#000" stroke-width="1.15" stroke-linecap="butt"/>
<line x1="438.30" y1="576.20" x2="514.40" y2="591.00" stroke="#000" stroke-width="2.0" stroke-linecap="butt"/>
<line x1="408.30" y1="603.70" x2="514.20" y2="590.80" stroke="#000" stroke-width="2.0" stroke-linecap="butt"/>
<line x1="412.00" y1="606.00" x2="514.20" y2="593.30" stroke="#000" stroke-width="1.15" stroke-linecap="butt"/>
<line x1="408.30" y1="603.70" x2="408.30" y2="800.00" stroke="#000" stroke-width="1.38" stroke-linecap="butt"/>
<line x1="412.00" y1="604.50" x2="412.00" y2="800.00" stroke="#000" stroke-width="1.26" stroke-linecap="butt"/>
<line x1="514.20" y1="590.80" x2="514.20" y2="636.50" stroke="#000" stroke-width="1.38" stroke-linecap="butt"/>
<line x1="513.40" y1="742.50" x2="513.40" y2="830.00" stroke="#000" stroke-width="1.26" stroke-linecap="butt"/>
<line x1="408.30" y1="654.40" x2="514.40" y2="635.80" stroke="#000" stroke-width="2.0" stroke-linecap="butt"/>
<line x1="412.00" y1="651.30" x2="506.70" y2="638.30" stroke="#000" stroke-width="1.15" stroke-linecap="butt"/>
<line x1="504.20" y1="639.00" x2="504.20" y2="737.00" stroke="#000" stroke-width="1.26" stroke-linecap="butt"/>
<line x1="508.90" y1="637.50" x2="508.90" y2="741.00" stroke="#000" stroke-width="1.26" stroke-linecap="butt"/>
<line x1="437.50" y1="652.50" x2="437.50" y2="714.20" stroke="#000" stroke-width="1.26" stroke-linecap="butt"/>
<line x1="445.00" y1="688.00" x2="445.00" y2="713.30" stroke="#000" stroke-width="1.15" stroke-linecap="butt"/>
<polyline points="412.00,721.70 437.50,714.20 445.00,713.30 505.20,735.00" fill="none" stroke="#000" stroke-width="1.26" stroke-linejoin="miter"/>
<polyline points="408.00,722.70 354.50,736.30 407.50,760.00" fill="none" stroke="#444" stroke-width="0.9" stroke-dasharray="4 2.6" stroke-linejoin="miter"/>
<line x1="354.50" y1="738.00" x2="354.50" y2="825.00" stroke="#555" stroke-width="0.9" stroke-dasharray="4 2.6" stroke-linecap="butt"/>
<line x1="407.50" y1="766.30" x2="514.00" y2="740.00" stroke="#000" stroke-width="2.0" stroke-linecap="butt"/>
<line x1="410.50" y1="770.20" x2="513.50" y2="744.30" stroke="#000" stroke-width="1.5" stroke-linecap="butt"/>
<line x1="392.70" y1="664.50" x2="392.70" y2="691.50" stroke="#000" stroke-width="1.15" stroke-linecap="butt"/>
<line x1="392.70" y1="713.50" x2="392.70" y2="764.50" stroke="#000" stroke-width="1.15" stroke-linecap="butt"/>
<polygon points="392.70,660.60 395.60,671.10 389.80,671.10" fill="#000" stroke="none"/>
<polygon points="392.70,768.40 389.80,757.90 395.60,757.90" fill="#000" stroke="none"/>
<line x1="392.70" y1="660.40" x2="408.30" y2="656.90" stroke="#333" stroke-width="0.9" stroke-linecap="butt"/>
<line x1="392.70" y1="768.60" x2="407.50" y2="765.20" stroke="#333" stroke-width="0.9" stroke-linecap="butt"/>
<text x="392.50" y="707.10" font-size="15.6" text-anchor="middle" >590</text>
<line x1="438.30" y1="663.70" x2="505.00" y2="686.70" stroke="#000" stroke-width="1.15" stroke-linecap="butt"/>
<polygon points="438.30,663.70 449.17,664.38 447.28,669.87" fill="#000" stroke="none"/>
<polygon points="505.00,686.70 494.13,686.02 496.02,680.53" fill="#000" stroke="none"/>
<text x="443.00" y="661.20" font-size="15.6" text-anchor="start" >min. 550</text>
<polygon points="437.00,682.80 426.10,682.21 428.05,676.54" fill="#000" stroke="none"/>
<line x1="427.07" y1="679.38" x2="424.24" y2="678.40" stroke="#000" stroke-width="1.15" stroke-linecap="butt"/>
<polygon points="445.80,687.00 456.70,687.59 454.75,693.26" fill="#000" stroke="none"/>
<line x1="455.73" y1="690.42" x2="459.51" y2="691.73" stroke="#000" stroke-width="1.15" stroke-linecap="butt"/>
<text x="441.00" y="683.70" font-size="15.6" text-anchor="start" >20</text>
<polygon points="412.60,743.20 422.11,737.89 423.49,743.53" fill="#000" stroke="none"/>
<line x1="422.80" y1="740.71" x2="429.60" y2="739.05" stroke="#000" stroke-width="1.15" stroke-linecap="butt"/>
<polygon points="505.00,720.80 495.49,726.11 494.11,720.47" fill="#000" stroke="none"/>
<line x1="494.80" y1="723.29" x2="477.31" y2="727.55" stroke="#000" stroke-width="1.15" stroke-linecap="butt"/>
<text x="413.20" y="737.10" font-size="15.6" text-anchor="start" >min. 560</text>
<polygon points="399.30,554.50 387.00,566.30 393.80,566.30 393.80,577.00 405.00,577.00 405.00,566.30 411.80,566.30" fill="#fff" stroke="#000" stroke-width="1.38" stroke-linejoin="miter"/>
<g transform="translate(1.5,494)">
<line x1="605.60" y1="141.10" x2="605.60" y2="180.00" stroke="#444" stroke-width="0.9" stroke-linecap="butt"/>
<line x1="669.40" y1="159.40" x2="669.40" y2="190.50" stroke="#444" stroke-width="0.9" stroke-linecap="butt"/>
<line x1="673.40" y1="161.70" x2="673.40" y2="191.50" stroke="#444" stroke-width="0.9" stroke-linecap="butt"/>
<line x1="674.40" y1="192.20" x2="735.80" y2="175.30" stroke="#444" stroke-width="0.9" stroke-linecap="butt"/>
<line x1="674.40" y1="213.90" x2="688.50" y2="210.00" stroke="#444" stroke-width="0.9" stroke-linecap="butt"/>
<line x1="673.90" y1="313.50" x2="713.70" y2="298.60" stroke="#444" stroke-width="0.9" stroke-linecap="butt"/>
<line x1="582.20" y1="357.00" x2="736.00" y2="297.60" stroke="#444" stroke-width="0.9" stroke-dasharray="4.5 3" stroke-linecap="butt"/>
<line x1="558.70" y1="347.70" x2="581.50" y2="358.20" stroke="#444" stroke-width="0.9" stroke-dasharray="4.5 3" stroke-linecap="butt"/>
<line x1="573.00" y1="351.00" x2="600.20" y2="364.40" stroke="#444" stroke-width="0.9" stroke-linecap="butt"/>
<line x1="673.90" y1="313.70" x2="700.90" y2="324.20" stroke="#444" stroke-width="0.9" stroke-linecap="butt"/>
<polyline points="515.20,318.50 515.20,201.90 605.60,180.50 655.60,193.90" fill="none" stroke="#000" stroke-width="2.5" stroke-linejoin="miter"/>
<line x1="515.20" y1="318.50" x2="569.00" y2="344.20" stroke="#000" stroke-width="2.5" stroke-linecap="butt"/>
<line x1="518.30" y1="203.00" x2="568.70" y2="220.00" stroke="#111" stroke-width="0.9" stroke-linecap="butt"/>
<line x1="553.50" y1="211.90" x2="568.70" y2="216.30" stroke="#111" stroke-width="0.9" stroke-linecap="butt"/>
<polyline points="518.90,321.00 522.10,330.10 557.30,347.20 563.20,342.80" fill="none" stroke="#000" stroke-width="1.7" stroke-linejoin="miter"/>
<line x1="522.10" y1="330.10" x2="557.30" y2="347.20" stroke="#000" stroke-width="2.4" stroke-linecap="butt"/>
<polygon points="569.40,217.00 673.70,191.50 673.90,313.30 571.00,350.40" fill="#fff" stroke="#000" stroke-width="2.5" stroke-linejoin="miter"/>
<line x1="569.40" y1="217.00" x2="673.70" y2="191.50" stroke="#000" stroke-width="2.8" stroke-linecap="butt"/>
<line x1="569.80" y1="217.00" x2="570.40" y2="350.00" stroke="#000" stroke-width="2.8" stroke-linecap="butt"/>
<line x1="573.60" y1="219.00" x2="573.60" y2="349.20" stroke="#000" stroke-width="1.15" stroke-linecap="butt"/>
<line x1="572.50" y1="219.20" x2="673.20" y2="194.60" stroke="#000" stroke-width="1.49" stroke-linecap="butt"/>
<line x1="570.20" y1="243.00" x2="673.50" y2="216.70" stroke="#000" stroke-width="2.7" stroke-linecap="butt"/>
<line x1="572.50" y1="245.30" x2="673.50" y2="219.20" stroke="#000" stroke-width="1.38" stroke-linecap="butt"/>
<polygon points="587.30,260.90 660.00,239.20 660.00,301.70 587.30,326.70" fill="none" stroke="#333" stroke-width="1.49" stroke-linejoin="miter"/>
<polygon points="553.50,211.20 550.70,202.70 556.30,202.70" fill="#000" stroke="none"/>
<line x1="553.50" y1="202.70" x2="553.50" y2="196.20" stroke="#000" stroke-width="1.15" stroke-linecap="butt"/>
<polygon points="553.50,217.00 556.30,225.50 550.70,225.50" fill="#000" stroke="none"/>
<line x1="553.50" y1="225.50" x2="553.50" y2="232.50" stroke="#000" stroke-width="1.15" stroke-linecap="butt"/>
<text x="560.00" y="210.00" font-size="15.6" text-anchor="start" >18</text>
<polygon points="606.10,141.40 616.51,141.44 614.88,147.00" fill="#000" stroke="none"/>
<line x1="615.69" y1="144.22" x2="623.37" y2="146.47" stroke="#000" stroke-width="1.15" stroke-linecap="butt"/>
<polygon points="669.20,159.40 658.79,159.36 660.42,153.80" fill="#000" stroke="none"/>
<line x1="659.61" y1="156.58" x2="653.85" y2="154.89" stroke="#000" stroke-width="1.15" stroke-linecap="butt"/>
<polygon points="673.70,161.90 684.11,161.94 682.48,167.50" fill="#000" stroke="none"/>
<line x1="683.29" y1="164.72" x2="690.97" y2="166.97" stroke="#000" stroke-width="1.15" stroke-linecap="butt"/>
<text x="624.60" y="154.60" font-size="15.6" text-anchor="start" >548</text>
<text x="667.20" y="154.60" font-size="15.6" text-anchor="start" >21</text>
<polygon points="680.00,192.30 682.70,201.80 677.30,201.80" fill="#000" stroke="none"/>
<polygon points="680.00,212.90 677.30,203.40 682.70,203.40" fill="#000" stroke="none"/>
<line x1="680.00" y1="198.00" x2="680.00" y2="207.00" stroke="#000" stroke-width="1.15" stroke-linecap="butt"/>
<text x="683.00" y="202.60" font-size="15.6" text-anchor="start" >114</text>
<line x1="713.80" y1="185.00" x2="713.80" y2="230.00" stroke="#000" stroke-width="1.15" stroke-linecap="butt"/>
<line x1="713.80" y1="247.50" x2="713.80" y2="292.00" stroke="#000" stroke-width="1.15" stroke-linecap="butt"/>
<polygon points="713.80,181.20 716.70,191.70 710.90,191.70" fill="#000" stroke="none"/>
<polygon points="713.80,296.80 710.90,286.30 716.70,286.30" fill="#000" stroke="none"/>
<line x1="735.80" y1="180.00" x2="735.80" y2="250.00" stroke="#000" stroke-width="1.15" stroke-linecap="butt"/>
<line x1="735.80" y1="267.50" x2="735.80" y2="292.00" stroke="#000" stroke-width="1.15" stroke-linecap="butt"/>
<polygon points="735.80,175.70 738.70,186.20 732.90,186.20" fill="#000" stroke="none"/>
<polygon points="735.80,296.30 732.90,285.80 738.70,285.80" fill="#000" stroke="none"/>
<text x="707.00" y="245.40" font-size="15.6" text-anchor="start" >589</text>
<text x="716.00" y="265.90" font-size="15.6" text-anchor="start" >594</text>
<polygon points="601.10,363.80 609.56,357.74 611.49,363.20" fill="#000" stroke="none"/>
<line x1="610.53" y1="360.47" x2="641.65" y2="349.48" stroke="#000" stroke-width="1.15" stroke-linecap="butt"/>
<polygon points="699.80,324.40 691.34,330.46 689.41,325.00" fill="#000" stroke="none"/>
<line x1="690.37" y1="327.73" x2="667.74" y2="335.72" stroke="#000" stroke-width="1.15" stroke-linecap="butt"/>
<text x="643.30" y="354.20" font-size="15.6" text-anchor="start" >595</text>
<text x="670.30" y="346.30" font-size="10.5" text-anchor="start" >+-1</text>
</g>
<circle cx="217.9" cy="687.1" r="99.1" fill="#fff" stroke="#000" stroke-width="1.2"/>
<polygon points="307.74,652.97 311.05,653.29 351.50,652.30 315.16,668.11 312.48,670.08" fill="#fff" stroke="none"/>
<polygon points="307.74,652.97 311.05,653.29 314.55,660.30 315.16,668.11 312.48,670.08" fill="#fff" stroke="none"/>
<polyline points="310.90,652.88 351.50,652.30 315.24,668.53" fill="none" stroke="#000" stroke-width="1.2" stroke-linejoin="miter"/>
<clipPath id="c1b"><circle cx="217.9" cy="687.1" r="98.8"/></clipPath>
<g clip-path="url(#c1b)">
<polygon points="177.50,636.90 276.70,625.60 276.70,645.30 177.50,659.70" fill="#c9c9c9" stroke="none" stroke-width="0" stroke-linejoin="miter"/>
<polyline points="174.20,635.00 266.70,619.20 290.00,625.00" fill="none" stroke="#555" stroke-width="0.9" stroke-dasharray="4 2.6" stroke-linejoin="miter"/>
<polyline points="177.50,636.90 276.70,625.60 276.70,645.30" fill="none" stroke="#555" stroke-width="0.9" stroke-dasharray="4 2.6" stroke-linejoin="miter"/>
<polyline points="177.50,636.90 185.80,641.70 231.70,653.30" fill="none" stroke="#555" stroke-width="0.9" stroke-dasharray="4 2.6" stroke-linejoin="miter"/>
<line x1="185.80" y1="641.70" x2="185.80" y2="662.50" stroke="#555" stroke-width="0.9" stroke-dasharray="4 2.6" stroke-linecap="butt"/>
<line x1="177.50" y1="636.90" x2="177.50" y2="660.00" stroke="#555" stroke-width="0.9" stroke-dasharray="4 2.6" stroke-linecap="butt"/>
<line x1="177.50" y1="659.90" x2="236.70" y2="651.30" stroke="#555" stroke-width="0.9" stroke-dasharray="4 2.6" stroke-linecap="butt"/>
<line x1="266.30" y1="604.20" x2="266.30" y2="648.30" stroke="#555" stroke-width="0.9" stroke-dasharray="4 2.6" stroke-linecap="butt"/>
<line x1="173.80" y1="600.80" x2="173.80" y2="664.00" stroke="#000" stroke-width="1.49" stroke-linecap="butt"/>
<line x1="173.80" y1="686.50" x2="173.80" y2="790.00" stroke="#000" stroke-width="1.49" stroke-linecap="butt"/>
<line x1="199.20" y1="592.00" x2="238.30" y2="602.50" stroke="#000" stroke-width="2.0" stroke-linecap="butt"/>
<line x1="201.00" y1="590.20" x2="240.00" y2="600.50" stroke="#000" stroke-width="0.9" stroke-linecap="butt"/>
<line x1="238.30" y1="602.50" x2="260.50" y2="600.60" stroke="#000" stroke-width="2.0" stroke-linecap="butt"/>
<line x1="236.90" y1="603.00" x2="236.90" y2="790.00" stroke="#000" stroke-width="1.5" stroke-linecap="butt"/>
<line x1="240.40" y1="603.00" x2="240.40" y2="790.00" stroke="#000" stroke-width="1.26" stroke-linecap="butt"/>
<line x1="237.50" y1="653.20" x2="301.70" y2="642.40" stroke="#000" stroke-width="2.0" stroke-linecap="butt"/>
<line x1="240.20" y1="655.20" x2="301.70" y2="644.80" stroke="#000" stroke-width="0.9" stroke-linecap="butt"/>
<line x1="266.30" y1="650.00" x2="266.30" y2="712.50" stroke="#000" stroke-width="1.26" stroke-linecap="butt"/>
<polyline points="240.70,720.00 266.30,712.50 303.80,724.30" fill="none" stroke="#000" stroke-width="1.26" stroke-linejoin="miter"/>
<polyline points="236.30,720.00 183.80,733.80 236.30,758.80" fill="none" stroke="#444" stroke-width="0.9" stroke-dasharray="4 2.6" stroke-linejoin="miter"/>
<line x1="183.80" y1="735.50" x2="183.80" y2="780.00" stroke="#444" stroke-width="0.9" stroke-dasharray="4 2.6" stroke-linecap="butt"/>
<line x1="240.70" y1="760.00" x2="292.00" y2="748.30" stroke="#000" stroke-width="1.38" stroke-linecap="butt"/>
<line x1="240.70" y1="763.20" x2="292.00" y2="751.50" stroke="#000" stroke-width="0.9" stroke-linecap="butt"/>
<line x1="240.70" y1="766.80" x2="288.00" y2="755.80" stroke="#000" stroke-width="1.38" stroke-linecap="butt"/>
<line x1="151.70" y1="643.30" x2="177.50" y2="638.00" stroke="#222" stroke-width="0.9" stroke-linecap="butt"/>
<line x1="151.70" y1="665.00" x2="177.50" y2="660.00" stroke="#222" stroke-width="0.9" stroke-linecap="butt"/>
<polygon points="151.70,642.80 148.90,633.30 154.50,633.30" fill="#000" stroke="none"/>
<line x1="151.70" y1="633.30" x2="151.70" y2="627.80" stroke="#000" stroke-width="1.15" stroke-linecap="butt"/>
<polygon points="151.70,665.20 154.50,674.70 148.90,674.70" fill="#000" stroke="none"/>
<line x1="151.70" y1="674.70" x2="151.70" y2="681.20" stroke="#000" stroke-width="1.15" stroke-linecap="butt"/>
<text x="136.20" y="658.80" font-size="15.6" text-anchor="start" >70</text>
<polygon points="176.00,669.40 165.68,665.73 169.33,660.72" fill="#000" stroke="none"/>
<line x1="167.51" y1="663.22" x2="165.89" y2="662.05" stroke="#000" stroke-width="1.15" stroke-linecap="butt"/>
<polygon points="187.50,675.80 197.96,679.04 194.52,684.20" fill="#000" stroke="none"/>
<line x1="196.24" y1="681.62" x2="197.90" y2="682.73" stroke="#000" stroke-width="1.15" stroke-linecap="butt"/>
<line x1="185.80" y1="662.50" x2="185.80" y2="675.00" stroke="#222" stroke-width="0.9" stroke-linecap="butt"/>
<line x1="177.50" y1="660.00" x2="177.50" y2="668.50" stroke="#222" stroke-width="0.9" stroke-linecap="butt"/>
<text x="167.00" y="683.00" font-size="15.6" text-anchor="start" >60</text>
<line x1="229.60" y1="659.00" x2="229.60" y2="673.30" stroke="#000" stroke-width="1.15" stroke-linecap="butt"/>
<line x1="229.60" y1="687.00" x2="229.60" y2="718.00" stroke="#000" stroke-width="1.15" stroke-linecap="butt"/>
<polygon points="229.60,655.00 232.50,665.50 226.70,665.50" fill="#000" stroke="none"/>
<polygon points="229.60,721.80 226.70,711.30 232.50,711.30" fill="#000" stroke="none"/>
<text x="208.30" y="685.10" font-size="15.6" text-anchor="start" >520</text>
</g>
<circle cx="223.3" cy="633.4" r="9.3" fill="#fff" stroke="#000" stroke-width="1.1"/>
<polyline points="223.64,627.66 221.12,634.09 224.79,632.37 223.53,637.07" fill="none" stroke="#000" stroke-width="1.55" stroke-linejoin="miter"/>
<polygon points="223.30,639.71 221.46,635.93 225.48,636.84" fill="#000"/>
<circle cx="221" cy="873.8" r="99" fill="#fff" stroke="#000" stroke-width="1.2"/>
<clipPath id="c22"><circle cx="221" cy="873.8" r="98.7"/></clipPath>
<g clip-path="url(#c22)">
<g transform="translate(0,463.4)">
<rect x="160" y="350" width="28.8" height="23.8" fill="#c9c9c9"/>
<polyline points="188.80,350.00 188.80,373.80 160.00,373.80" fill="none" stroke="#555" stroke-width="0.9" stroke-dasharray="3.6 2.4" stroke-linejoin="miter"/>
<line x1="159.50" y1="336.00" x2="159.50" y2="483.00" stroke="#000" stroke-width="1.49" stroke-linecap="butt"/>
<line x1="159.50" y1="350.00" x2="286.30" y2="350.00" stroke="#000" stroke-width="1.49" stroke-linecap="butt"/>
<line x1="286.30" y1="338.50" x2="286.30" y2="350.00" stroke="#000" stroke-width="1.38" stroke-linecap="butt"/>
<line x1="279.00" y1="350.00" x2="279.00" y2="487.00" stroke="#000" stroke-width="1.38" stroke-linecap="butt"/>
<polyline points="278.80,357.50 200.00,357.50 198.00,360.00 193.00,375.50 177.50,377.50 177.50,432.50 183.80,433.80 183.80,455.50 285.00,455.50 285.00,351.00" fill="none" stroke="#444" stroke-width="0.9" stroke-dasharray="3.6 2.4" stroke-linejoin="miter"/>
<line x1="279.50" y1="373.50" x2="285.00" y2="373.50" stroke="#444" stroke-width="0.9" stroke-dasharray="2 1.5" stroke-linecap="butt"/>
<polyline points="171.60,490.50 171.60,460.00 285.00,460.00 285.00,474.00" fill="none" stroke="#000" stroke-width="1.38" stroke-linejoin="miter"/>
<polygon points="159.60,362.00 150.10,364.80 150.10,359.20" fill="#000" stroke="none"/>
<line x1="150.10" y1="362.00" x2="144.60" y2="362.00" stroke="#000" stroke-width="1.15" stroke-linecap="butt"/>
<polygon points="189.20,362.00 198.70,359.20 198.70,364.80" fill="#000" stroke="none"/>
<line x1="198.70" y1="362.00" x2="205.20" y2="362.00" stroke="#000" stroke-width="1.15" stroke-linecap="butt"/>
<text x="165.30" y="367.50" font-size="15.6" text-anchor="start" >60</text>
<polygon points="159.40,467.00 149.90,469.80 149.90,464.20" fill="#000" stroke="none"/>
<line x1="149.90" y1="467.00" x2="144.40" y2="467.00" stroke="#000" stroke-width="1.15" stroke-linecap="butt"/>
<polygon points="172.80,466.40 182.30,463.60 182.30,469.20" fill="#000" stroke="none"/>
<line x1="182.30" y1="466.40" x2="187.80" y2="466.40" stroke="#000" stroke-width="1.15" stroke-linecap="butt"/>
<text x="174.60" y="483.70" font-size="15.6" text-anchor="start" >20</text>
</g>
</g>
<circle cx="432.2" cy="887.4" r="99" fill="#fff" stroke="#000" stroke-width="1.2"/>
<polygon points="452.32,793.53 454.39,790.92 447.50,758.80 474.43,797.86 474.43,801.19" fill="#fff" stroke="none"/>
<polygon points="452.32,793.53 454.39,790.92 464.99,792.72 474.43,797.86 474.43,801.19" fill="#fff" stroke="none"/>
<polyline points="453.96,790.82 447.50,758.80 474.82,798.04" fill="none" stroke="#000" stroke-width="1.2" stroke-linejoin="miter"/>
<clipPath id="c3b"><circle cx="432.2" cy="887.4" r="99"/></clipPath>
<g clip-path="url(#c3b)">
<g transform="translate(-8.0,464.1)">
<line x1="392.50" y1="426.50" x2="478.80" y2="426.50" stroke="#222" stroke-width="0.9" stroke-linecap="butt"/>
<line x1="422.00" y1="435.50" x2="478.80" y2="435.50" stroke="#222" stroke-width="0.9" stroke-linecap="butt"/>
<line x1="422.00" y1="413.50" x2="438.80" y2="413.50" stroke="#222" stroke-width="0.9" stroke-linecap="butt"/>
<path d="M360,427 C370,431 380,434 391,435.6" fill="none" stroke="#333" stroke-width="0.7" />
<path d="M352.9,433.3 L367.5,437.6 L353.8,440.2" fill="none" stroke="#333" stroke-width="0.7" stroke-linejoin="round"/>
<path d="M357.5,448.3 C361,446 362.5,442.5 366,441.4 C372,439.8 384,440.2 391,442.2" fill="none" stroke="#333" stroke-width="0.7" />
<path d="M367.5,452.9 C372,451 377,448 382,447.4 C387,447 389.5,448.5 391,451" fill="none" stroke="#333" stroke-width="0.7" />
<path d="M402.9,436.3 C402,446 398.5,455 395,463.5" fill="none" stroke="#333" stroke-width="0.7" />
<path d="M409.2,436.3 C408.3,442 408.2,448 408.8,452.5 C409.2,457 409.6,461.5 411,463.5 C414,467 417.5,471 418.5,474 C419.5,477 419.8,480 419.6,483.5" fill="none" stroke="#333" stroke-width="0.7" />
<path d="M417.5,436.3 C415.5,438 414.2,440 414.6,442.5 C415.5,448 418.5,454 420.2,460" fill="none" stroke="#333" stroke-width="0.7" />
<path d="M398.8,490.8 C399,484 399.6,477 400.8,471.7 C402,467 403.6,462.5 405.4,459.6 C406.6,461 406.4,464 406.8,466.8 C407.4,472 407.8,479 409.4,483.5 C411.5,488 417,493.5 420,498.3" fill="none" stroke="#333" stroke-width="0.7" />
<polyline points="392.70,345.00 392.70,402.50 367.50,402.50 357.30,425.50" fill="none" stroke="#000" stroke-width="2.7" stroke-linejoin="miter"/>
<line x1="392.70" y1="396.30" x2="407.50" y2="396.30" stroke="#000" stroke-width="2.7" stroke-linecap="butt"/>
<polyline points="407.50,335.00 407.50,413.80 421.80,413.80 421.80,330.00" fill="none" stroke="#000" stroke-width="2.7" stroke-linejoin="miter"/>
<polyline points="343.30,425.70 392.80,425.70 392.80,453.80 352.30,453.80" fill="none" stroke="#000" stroke-width="2.7" stroke-linejoin="miter"/>
<polyline points="392.80,495.80 392.80,435.00 421.50,435.00 421.50,500.30" fill="none" stroke="#000" stroke-width="2.7" stroke-linejoin="miter"/>
<polygon points="438.00,413.40 435.00,403.90 441.00,403.90" fill="#000" stroke="none"/>
<line x1="438.00" y1="403.90" x2="438.00" y2="395.90" stroke="#000" stroke-width="1.15" stroke-linecap="butt"/>
<polygon points="438.00,427.00 441.00,436.50 435.00,436.50" fill="#000" stroke="none"/>
<line x1="438.00" y1="436.50" x2="438.00" y2="445.00" stroke="#000" stroke-width="1.15" stroke-linecap="butt"/>
<polygon points="477.50,426.20 474.50,416.70 480.50,416.70" fill="#000" stroke="none"/>
<line x1="477.50" y1="416.70" x2="477.50" y2="407.20" stroke="#000" stroke-width="1.15" stroke-linecap="butt"/>
<polygon points="477.50,436.00 480.50,445.50 474.50,445.50" fill="#000" stroke="none"/>
<line x1="477.50" y1="445.50" x2="477.50" y2="455.50" stroke="#000" stroke-width="1.15" stroke-linecap="butt"/>
<text x="444.80" y="421.70" font-size="15.6" text-anchor="start" >5</text>
<text x="481.00" y="435.60" font-size="15.6" text-anchor="start" >3</text>
<polygon points="481.50,344.10 455.80,389.00 507.10,389.00" fill="#fff" stroke="#000" stroke-width="1.8" stroke-linejoin="miter"/>
<line x1="481.90" y1="354.80" x2="481.90" y2="378.00" stroke="#000" stroke-width="3.7" stroke-linecap="butt"/>
<circle cx="481.9" cy="383.6" r="3.0" fill="#000"/>
</g>
</g>
</svg>
</body></html>
